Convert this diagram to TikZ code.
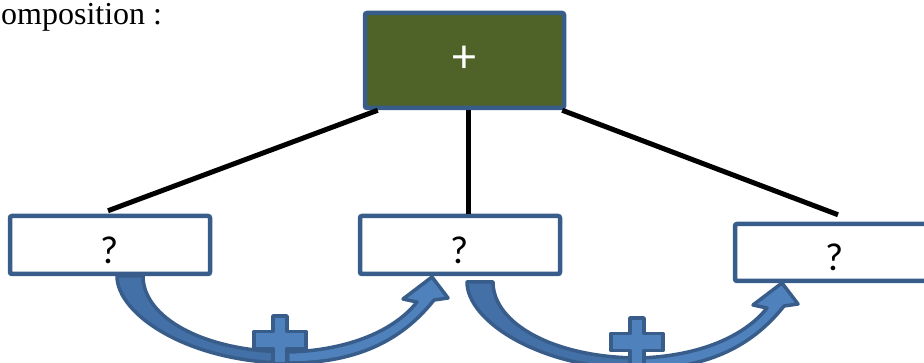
\documentclass[tikz,border=0pt]{standalone}
\usepackage{fontspec}
\setmainfont{Liberation Serif}
\newfontfamily\calib{Carlito}
\usetikzlibrary{positioning}
\definecolor{edgeblue}{HTML}{385D8A}
\definecolor{rootgreen}{HTML}{4F6228}
\definecolor{fillblue}{HTML}{4F81BD}
\definecolor{tailblue}{HTML}{4470A8}
\tikzset{
  qbox/.style={draw=edgeblue,line width=4.5pt,rounded corners=2pt,fill=white,
               minimum width=200pt,minimum height=58pt,inner sep=0pt,
               text height=37pt,text depth=0pt,
               font=\calib\fontsize{39}{42}\selectfont},
  rootbox/.style={qbox,fill=rootgreen,text=white,minimum width=199pt,minimum height=95pt,
                  text height=25pt,font=\calib\fontsize{48}{50}\selectfont},
  link/.style={line width=5pt,black},
  rim/.style={draw=edgeblue,line width=3.5pt,line join=round},
  band/.style={rim,fill=fillblue},
}

\begin{document}
\begin{tikzpicture}[x=1pt,y=-1pt]
  \useasboundingbox (0,0) rectangle (924,363);
  \node[anchor=base west,inner sep=0pt,font=\fontsize{32}{36}\selectfont] (title) at (1,25) {omposition :};
  % tree
  \node[rootbox] (root) at (464.5,60.5) {+};
  \node[qbox] (q1) at (110,245) {?};
  \node[qbox] (q2) at (460,245) {?};
  \node[qbox,minimum height=57pt] (q3) at (835,252.5) {?};
  \draw[link] ([xshift=15pt]root.south west) -- ([xshift=-2pt,yshift=3pt]q1.north);
  \draw[link] ([xshift=3.5pt]root.south) -- ([xshift=3.5pt]root.south |- q2.north);
  \draw[link] ([xshift=-4pt]root.south east) -- ([xshift=3pt,yshift=7pt]q3.north);
  % curved arrows with plus signs
  \foreach \dx/\dy/\cx/\cy in {0/0/280/340,350/6/637/342}{
    \begin{scope}[shift={(\dx,\dy)}]
      \fill[tailblue] (117,276) .. controls (117,315) and (190,363) .. (290,363)
        -- (290,352) .. controls (205,352) and (143,318) .. (143,276) -- cycle;
      \fill[fillblue] (290,363) .. controls (370,363) and (410,330) .. (434,300)
        -- (448,298) -- (432,277) -- (403,299) -- (417,302)
        .. controls (395,330) and (350,350) .. (290,352) -- cycle;
      \draw[rim] (117,276) .. controls (117,315) and (190,363) .. (290,363)
        .. controls (370,363) and (410,330) .. (434,300)
        -- (448,298) -- (432,277) -- (403,299) -- (417,302)
        .. controls (395,330) and (350,350) .. (290,352)
        .. controls (205,352) and (143,318) .. (143,276) -- cycle;
    \end{scope}
    \path[band] (\cx-7,\cy-24) -- (\cx+7,\cy-24) -- (\cx+7,\cy-8.5) -- (\cx+26,\cy-8.5)
      -- (\cx+26,\cy+8.5) -- (\cx+7,\cy+8.5) -- (\cx+7,\cy+24) -- (\cx-7,\cy+24)
      -- (\cx-7,\cy+8.5) -- (\cx-26,\cy+8.5) -- (\cx-26,\cy-8.5) -- (\cx-7,\cy-8.5) -- cycle;
  }
\end{tikzpicture}
\end{document}
